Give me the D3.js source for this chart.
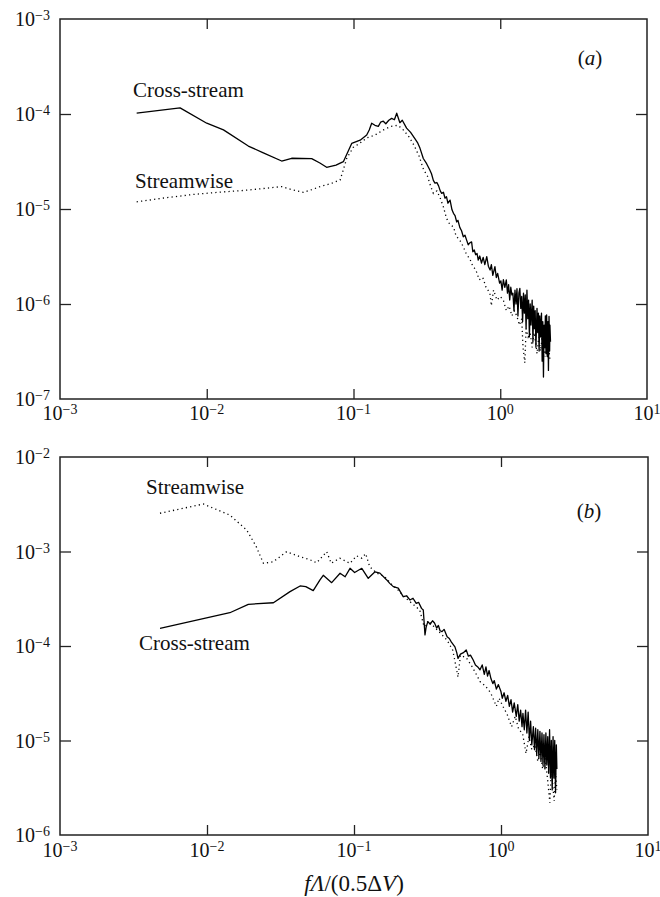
<!DOCTYPE html>
<html><head><meta charset="utf-8">
<script src="https://cdn.jsdelivr.net/npm/d3@7"></script>
<style>
html,body{margin:0;padding:0;background:#fff;}
svg text{font-family:"Liberation Serif","Times New Roman",Times,serif;fill:#111;}
</style></head>
<body><svg id="c" width="660" height="897" font-family="Liberation Serif, Times New Roman, serif"></svg>
<script>
// ---- data ----
const xTickExps = [-3,-2,-1,0,1];
const yTickExpsA = [-3,-4,-5,-6,-7];
const yTickExpsB = [-2,-3,-4,-5,-6];

const crossA = [[0.00333,1.02e-4],[0.00658,1.16e-4],[0.0100,8.0e-5],[0.0130,6.8e-5],[0.0192,4.6e-5],[0.0243,3.9e-5],[0.0324,3.2e-5],[0.0379,3.42e-5],[0.0519,3.39e-5],[0.0590,3.05e-5],[0.0656,2.75e-5],[0.0760,2.9e-5],[0.0853,3.15e-5],[0.0972,4.9e-5],[0.111,5.3e-5],[0.123,6.0e-5],[0.128,6.8e-5],[0.133,8.0e-5],[0.140,7.6e-5],[0.1476,7.4e-5],[0.153,8.2e-5],[0.1596,8.4e-5],[0.166,7.9e-5],[0.174,8.6e-5],[0.182,9.0e-5],[0.190,8.7e-5],[0.197,1.02e-4],[0.207,8.1e-5],[0.215,8.6e-5],[0.23,7.1e-5],[0.245,6.4e-5],[0.262,5.5e-5],[0.273,5.0e-5],[0.284,4.35e-5],[0.299,3.4e-5],[0.315,3.0e-5],
[0.33,2.6e-5],[0.34,2.35e-5],[0.35,2.0e-5],[0.359,1.87e-5],[0.37,1.9e-5],[0.38,1.75e-5],[0.39,1.55e-5],[0.399,1.46e-5],[0.41,1.5e-5],[0.42,1.3e-5],[0.43,1.35e-5],[0.44,1.15e-5],[0.455,1.24e-5],[0.469,9.8e-6],[0.48,9.0e-6],[0.492,8.5e-6],[0.505,7.3e-6],[0.515,7.6e-6],[0.53,6.4e-6],[0.545,5.9e-6],[0.56,5.1e-6],[0.575,5.3e-6],[0.59,4.7e-6],[0.605,4.2e-6],[0.62,4.4e-6],[0.638,4.5e-6],[0.65,3.55e-6],[0.665,3.7e-6],[0.68,3.3e-6],[0.695,3.4e-6],[0.708,2.9e-6],[0.725,3.2e-6],[0.745,2.7e-6],[0.765,3.1e-6],[0.785,2.6e-6],[0.809,3.15e-6],[0.83,2.5e-6],[0.853,2.28e-6],[0.87,2.6e-6],[0.89,2.0e-6],[0.92,2.47e-6],[0.94,1.9e-6],[0.96,2.1e-6],[0.99,1.66e-6],[1.01,1.75e-6],[1.03,1.4e-6],[1.05,1.8e-6],[1.075,1.5e-6],[1.1,1.79e-6],[1.12,1.3e-6],[1.14,1.6e-6],[1.16,1.1e-6],[1.18,1.5e-6],[1.2,1.25e-6],[1.22,1.3e-6],[1.24,8.5e-7],[1.26,1.4e-6],[1.28,1.0e-6],[1.3,1.45e-6],[1.32,7.5e-7],[1.34,1.3e-6],[1.36,1.46e-6],[1.38,9.0e-7],[1.4,1.2e-6],[1.42,6.5e-7],[1.44,1.3e-6],[1.46,8.0e-7],[1.48,1.25e-6],[1.5,5.5e-7],[1.52,1.4e-6],[1.54,7.0e-7],[1.56,1.1e-6],[1.58,4.5e-7],[1.6,1.0e-6],[1.62,6.0e-7],[1.65,1.1e-6],[1.67,4.0e-7],[1.69,9.5e-7],[1.71,5.5e-7],[1.73,8.5e-7],[1.75,3.5e-7],[1.78,9.0e-7],[1.8,5.0e-7],[1.82,8.0e-7],[1.84,3.2e-7],[1.86,7.5e-7],[1.88,4.5e-7],[1.91,8.0e-7],[1.93,2.5e-7],[1.95,6.5e-7],[1.97,1.7e-7],[1.99,6.0e-7],[2.01,3.5e-7],[2.03,7.5e-7],[2.05,3.0e-7],[2.07,7.7e-7],[2.09,2.8e-7],[2.11,6.5e-7],[2.13,2.0e-7],[2.15,7.4e-7],[2.17,3.2e-7],[2.18,6.0e-7],[2.2,4.0e-7]];

const streamA = [[0.00333,1.19e-5],[0.005,1.3e-5],[0.008,1.42e-5],[0.012,1.5e-5],[0.018,1.57e-5],[0.025,1.65e-5],[0.0324,1.72e-5],[0.038,1.6e-5],[0.0455,1.5e-5],[0.052,1.6e-5],[0.0592,1.72e-5],[0.07,1.85e-5],[0.081,2.02e-5],[0.0852,2.58e-5],[0.09,3.42e-5],[0.0997,4.46e-5],[0.11,4.9e-5],[0.123,5.6e-5],[0.14,6.0e-5],[0.16,6.8e-5],[0.18,7.4e-5],[0.2,7.6e-5],[0.215,7.0e-5],[0.24,5.7e-5],[0.26,4.6e-5],[0.28,3.6e-5],[0.3,2.6e-5],[0.32,2.2e-5],[0.335,1.75e-5],[0.35,1.46e-5],[0.37,1.55e-5],[0.39,1.3e-5],[0.41,1.05e-5],[0.43,8.0e-6],[0.455,6.8e-6],[0.48,6.5e-6],[0.5,5.2e-6],[0.53,4.7e-6],[0.56,4.0e-6],[0.59,3.3e-6],[0.62,3.0e-6],[0.65,2.5e-6],[0.68,2.3e-6],[0.72,1.8e-6],[0.76,1.9e-6],[0.8,1.5e-6],[0.85,1.3e-6],[0.87,9.6e-7],[0.9,1.4e-6],[0.95,1.1e-6],[1.0,1.2e-6],[1.05,1.1e-6],[1.1,8.5e-7],[1.15,9.5e-7],[1.2,7.5e-7],[1.25,8.5e-7],[1.3,7.4e-7],[1.35,6.0e-7],[1.4,7.0e-7],[1.43,3.5e-7],[1.47,2.4e-7],[1.5,5.5e-7],[1.55,4.5e-7],[1.6,4.9e-7],[1.65,3.5e-7],[1.7,5.0e-7],[1.75,3.8e-7],[1.78,3.0e-7],[1.83,4.5e-7],[1.88,3.2e-7],[1.93,4.5e-7],[1.97,4.2e-7],[2.02,2.8e-7],[2.06,4.0e-7],[2.1,3.0e-7],[2.14,3.5e-7],[2.18,2.6e-7]];

const streamB = [[0.00479,2.54e-3],[0.00944,3.18e-3],[0.0143,2.43e-3],[0.0186,1.69e-3],[0.0215,1.15e-3],[0.0242,7.5e-4],[0.0283,7.8e-4],[0.0348,9.95e-4],[0.043,8.8e-4],[0.05,8.2e-4],[0.0557,7.6e-4],[0.0652,9.95e-4],[0.07,7.5e-4],[0.08,8.5e-4],[0.094,7.5e-4],[0.104,9.0e-4],[0.113,8.5e-4],[0.12,9.5e-4],[0.128,6.9e-4],[0.143,5.9e-4],[0.155,5.6e-4],[0.16,5.5e-4],[0.18,4.5e-4],[0.2,3.9e-4],[0.22,3.3e-4],[0.25,2.8e-4],[0.28,2.4e-4],[0.3,1.6e-4],[0.32,1.85e-4],[0.35,1.6e-4],[0.39,1.35e-4],[0.43,1.15e-4],[0.47,9.0e-5],[0.51,4.7e-5],[0.53,8.0e-5],[0.58,7.5e-5],[0.63,6.2e-5],[0.68,5.0e-5],[0.72,4.2e-5],[0.78,3.8e-5],[0.85,3.2e-5],[0.93,2.3e-5],[0.97,2.8e-5],[1.03,2.3e-5],[1.1,1.9e-5],[1.18,1.4e-5],[1.25,1.8e-5],[1.32,1.3e-5],[1.4,1.2e-5],[1.48,7.3e-6],[1.55,1.1e-5],[1.62,8.0e-6],[1.7,9.0e-6],[1.78,6.0e-6],[1.85,7.5e-6],[1.92,5.0e-6],[2.0,6.5e-6],[2.07,4.0e-6],[2.15,2.2e-6],[2.2,5.0e-6],[2.3,2.3e-6],[2.35,4.5e-6],[2.4,3.0e-6]];

const crossB = [[0.00479,1.54e-4],[0.0143,2.25e-4],[0.0191,2.76e-4],[0.0283,2.87e-4],[0.0367,3.76e-4],[0.043,4.32e-4],[0.047,4.25e-4],[0.0528,3.85e-4],[0.0587,5.0e-4],[0.0618,5.6e-4],[0.0705,4.68e-4],[0.0804,5.88e-4],[0.087,5.4e-4],[0.094,6.64e-4],[0.101,6.0e-4],[0.113,6.64e-4],[0.125,5.2e-4],[0.139,6.1e-4],[0.15,5.9e-4],[0.167,5.0e-4],[0.175,4.6e-4],[0.185,4.25e-4],[0.2,4.1e-4],[0.216,3.33e-4],[0.228,3.4e-4],[0.24,3.07e-4],[0.252,3.2e-4],[0.265,2.83e-4],[0.275,2.9e-4],[0.288,2.5e-4],[0.296,2.4e-4],[0.304,1.31e-4],[0.31,1.6e-4],[0.318,1.81e-4],[0.33,1.7e-4],[0.342,1.85e-4],[0.353,1.75e-4],[0.365,1.55e-4],[0.375,1.65e-4],[0.385,1.45e-4],[0.397,1.42e-4],[0.41,1.5e-4],[0.43,1.25e-4],[0.445,1.2e-4],[0.46,1.1e-4],[0.486,9.8e-5],[0.5,8.5e-5],[0.51,7.4e-5],[0.53,8.2e-5],[0.555,8.5e-5],[0.58,9.1e-5],[0.6,7.8e-5],[0.62,8.0e-5],[0.647,7.1e-5],[0.67,6.3e-5],[0.695,6.0e-5],[0.72,5.6e-5],[0.745,6.3e-5],[0.77,5.0e-5],[0.79,6.0e-5],[0.81,4.8e-5],[0.83,5.5e-5],[0.855,4.5e-5],[0.88,4.0e-5],[0.9,4.3e-5],[0.93,3.5e-5],[0.96,3.9e-5],[0.999,3.3e-5],[1.02,2.8e-5],[1.05,3.2e-5],[1.08,2.6e-5],[1.11,3.0e-5],[1.14,2.3e-5],[1.17,2.7e-5],[1.2,2.0e-5],[1.23,2.5e-5],[1.27,1.8e-5],[1.3,2.4e-5],[1.33,1.6e-5],[1.36,2.1e-5],[1.39,1.4e-5],[1.41,1.94e-5],[1.44,1.3e-5],[1.47,2.1e-5],[1.5,1.2e-5],[1.53,2.0e-5],[1.56,1.0e-5],[1.59,1.6e-5],[1.62,9.0e-6],[1.66,1.4e-5],[1.69,8.0e-6],[1.72,1.35e-5],[1.75,7.0e-6],[1.78,1.3e-5],[1.81,6.5e-6],[1.84,1.25e-5],[1.87,6.0e-6],[1.9,1.2e-5],[1.93,5.5e-6],[1.96,1.15e-5],[1.99,5.0e-6],[2.02,1.2e-5],[2.05,5.5e-6],[2.08,1.1e-5],[2.11,4.5e-6],[2.14,1.3e-5],[2.17,4.0e-6],[2.2,1.0e-5],[2.23,3.0e-6],[2.26,1.1e-5],[2.29,4.0e-6],[2.32,1.0e-5],[2.35,2.8e-6],[2.38,9.0e-6],[2.4,5.0e-6]];

// ---- drawing ----
const FONT = "Liberation Serif, Times New Roman, serif";
const svg = d3.select("#c");
const expLabel = e => e < 0 ? "\u2212" + (-e) : String(e);

function panel(cfg){
  const x = d3.scaleLog().domain([1e-3,1e1]).range([cfg.left,cfg.right]);
  const y = d3.scaleLog().domain([Math.pow(10,cfg.yExps[cfg.yExps.length-1]),Math.pow(10,cfg.yExps[0])]).range([cfg.bottom,cfg.top]);
  const g = svg.append("g").attr("font-family",FONT);
  const xIn = xTickExps.slice(1,-1).map(e=>Math.pow(10,e));
  const yIn = cfg.yExps.slice(1,-1).map(e=>Math.pow(10,e));
  const axStyle = s => s.call(a=>a.select(".domain").remove())
     .call(a=>a.selectAll(".tick line").attr("stroke","#222").attr("stroke-width",1.3))
     .call(a=>a.selectAll(".tick text").remove());
  g.append("g").attr("transform",`translate(0,${cfg.bottom})`).call(d3.axisBottom(x).tickValues(xIn).tickSize(-10)).call(axStyle);
  g.append("g").attr("transform",`translate(0,${cfg.top})`).call(d3.axisTop(x).tickValues(xIn).tickSize(-10)).call(axStyle);
  g.append("g").attr("transform",`translate(${cfg.left},0)`).call(d3.axisLeft(y).tickValues(yIn).tickSize(-11)).call(axStyle);
  g.append("g").attr("transform",`translate(${cfg.right},0)`).call(d3.axisRight(y).tickValues(yIn).tickSize(-11)).call(axStyle);
  g.append("rect").attr("x",cfg.left).attr("y",cfg.top).attr("width",cfg.right-cfg.left).attr("height",cfg.bottom-cfg.top)
    .attr("fill","none").attr("stroke","#222").attr("stroke-width",1.5);

  xTickExps.forEach(e=>{
    const t = g.append("text").attr("font-family",FONT).attr("x",x(Math.pow(10,e))).attr("y",cfg.bottom+cfg.xLabOff).attr("text-anchor","middle").attr("font-size",20);
    t.append("tspan").text("10");
    t.append("tspan").attr("font-size",14).attr("dy",-6).text(expLabel(e));
  });
  cfg.yExps.forEach(e=>{
    const t = g.append("text").attr("font-family",FONT).attr("x",cfg.left-10).attr("y",y(Math.pow(10,e))+7).attr("text-anchor","end").attr("font-size",20);
    t.append("tspan").text("10");
    t.append("tspan").attr("font-size",14).attr("dy",-6).text(expLabel(e));
  });

  const line = d3.line().x(d=>x(d[0])).y(d=>y(d[1]));
  g.append("path").datum(cfg.dotted).attr("d",line).attr("fill","none").attr("stroke","#000")
    .attr("stroke-width",1.3).attr("stroke-dasharray","1.2,3.2");
  g.append("path").datum(cfg.solid).attr("d",line).attr("fill","none").attr("stroke","#000")
    .attr("stroke-width",1.3).attr("stroke-linejoin","round");

  g.append("text").attr("font-family",FONT).attr("x",cfg.tagX).attr("y",cfg.tagY).attr("text-anchor","middle").attr("font-size",21)
    .html(`(<tspan font-style="italic">${cfg.tag}</tspan>)`);
  cfg.labels.forEach(l=>{
    g.append("text").attr("font-family",FONT).attr("x",l.x).attr("y",l.y).attr("font-size",21).text(l.t);
  });
}

panel({left:60,right:647,top:19,bottom:399,yExps:yTickExpsA,xLabOff:21,solid:crossA,dotted:streamA,
  tag:"a",tagX:590,tagY:65,labels:[{t:"Cross-stream",x:133,y:97},{t:"Streamwise",x:135,y:188}]});
panel({left:60,right:648,top:457,bottom:835,yExps:yTickExpsB,xLabOff:22,solid:crossB,dotted:streamB,
  tag:"b",tagX:589,tagY:518,labels:[{t:"Streamwise",x:146,y:494},{t:"Cross-stream",x:139,y:650}]});

svg.append("text").attr("font-family",FONT).attr("x",354).attr("y",891).attr("text-anchor","middle").attr("font-size",23)
  .html('<tspan font-style="italic">f</tspan><tspan font-style="italic">Λ</tspan>/(0.5Δ<tspan font-style="italic">V</tspan>)');
</script></body></html>
